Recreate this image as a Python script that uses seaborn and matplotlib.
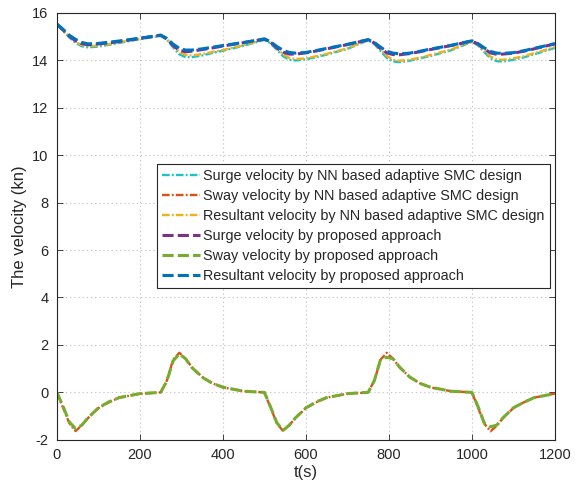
import numpy as np
import pandas as pd
import matplotlib
matplotlib.use("Agg")
import matplotlib.pyplot as plt
import seaborn as sns

# ---------------- data ----------------
t = [0, 15, 30, 45, 60, 75, 100, 125, 150, 200,
     250, 265, 280, 295, 310, 325, 350, 375, 400, 450,
     500, 515, 530, 545, 560, 575, 600, 625, 650, 700,
     750, 765, 780, 795, 810, 825, 850, 875, 900, 950,
     1000, 1015, 1030, 1045, 1060, 1075, 1100, 1125, 1150, 1200]

# NN based adaptive SMC design
surge_nn = [15.50, 15.25, 14.96, 14.73, 14.59, 14.54, 14.58, 14.65, 14.73, 14.89,
            15.03, 14.87, 14.54, 14.25, 14.13, 14.13, 14.20, 14.31, 14.40, 14.61,
            14.86, 14.71, 14.44, 14.17, 14.02, 13.99, 14.04, 14.13, 14.24, 14.48,
            14.84, 14.68, 14.39, 14.10, 13.95, 13.92, 13.98, 14.08, 14.18, 14.42,
            14.78, 14.62, 14.34, 14.08, 13.96, 13.95, 14.02, 14.12, 14.25, 14.52]
sway_nn = [0.00, -0.65, -1.30, -1.63, -1.38, -1.08, -0.66, -0.42, -0.22, -0.06,
           0.00, 0.50, 1.38, 1.67, 1.42, 1.07, 0.65, 0.38, 0.21, 0.05,
           0.00, -0.65, -1.30, -1.63, -1.38, -1.08, -0.66, -0.42, -0.22, -0.06,
           0.00, 0.50, 1.38, 1.67, 1.42, 1.07, 0.65, 0.38, 0.21, 0.05,
           0.00, -0.65, -1.32, -1.64, -1.40, -1.08, -0.66, -0.42, -0.22, -0.05]
result_nn = [15.52, 15.28, 15.00, 14.78, 14.64, 14.59, 14.62, 14.68, 14.76, 14.91,
             15.05, 14.90, 14.60, 14.35, 14.23, 14.20, 14.26, 14.35, 14.43, 14.63,
             14.88, 14.75, 14.50, 14.25, 14.10, 14.05, 14.08, 14.17, 14.27, 14.50,
             14.86, 14.72, 14.45, 14.18, 14.02, 13.98, 14.02, 14.11, 14.22, 14.45,
             14.80, 14.66, 14.40, 14.15, 14.04, 14.02, 14.08, 14.17, 14.30, 14.55]

# proposed approach
surge_pr = [15.51, 15.27, 15.01, 14.82, 14.70, 14.65, 14.69, 14.73, 14.79, 14.92,
            15.05, 14.90, 14.62, 14.42, 14.36, 14.38, 14.45, 14.52, 14.60, 14.74,
            14.89, 14.76, 14.52, 14.34, 14.26, 14.26, 14.31, 14.39, 14.48, 14.66,
            14.86, 14.73, 14.49, 14.31, 14.24, 14.23, 14.28, 14.36, 14.45, 14.62,
            14.81, 14.68, 14.47, 14.31, 14.25, 14.26, 14.30, 14.38, 14.48, 14.69]
sway_pr = [0.00, -0.60, -1.25, -1.53, -1.38, -1.07, -0.65, -0.40, -0.22, -0.05,
           0.00, 0.48, 1.33, 1.62, 1.42, 1.05, 0.64, 0.38, 0.22, 0.05,
           0.00, -0.62, -1.28, -1.60, -1.38, -1.07, -0.65, -0.40, -0.22, -0.05,
           0.00, 0.50, 1.40, 1.48, 1.42, 1.08, 0.65, 0.38, 0.22, 0.05,
           0.00, -0.60, -1.30, -1.45, -1.38, -1.07, -0.65, -0.42, -0.22, -0.05]
result_pr = [15.53, 15.30, 15.05, 14.88, 14.75, 14.69, 14.71, 14.76, 14.81, 14.93,
             15.06, 14.92, 14.68, 14.50, 14.43, 14.43, 14.48, 14.55, 14.62, 14.75,
             14.90, 14.78, 14.58, 14.42, 14.33, 14.30, 14.33, 14.41, 14.50, 14.67,
             14.87, 14.75, 14.55, 14.38, 14.30, 14.27, 14.30, 14.38, 14.47, 14.63,
             14.82, 14.70, 14.52, 14.37, 14.30, 14.29, 14.32, 14.40, 14.50, 14.70]

labels = ["Surge velocity by NN based adaptive SMC design",
          "Sway velocity by NN based adaptive SMC design",
          "Resultant velocity by NN based adaptive SMC design",
          "Surge velocity by proposed approach",
          "Sway velocity by proposed approach",
          "Resultant velocity by proposed approach"]
series = [surge_nn, sway_nn, result_nn, surge_pr, sway_pr, result_pr]
colors = ["#1CC3C6", "#D95319", "#EDB120", "#7E2F8E", "#77AC30", "#0072BD"]

xticks = [0, 200, 400, 600, 800, 1000, 1200]
yticks = [-2, 0, 2, 4, 6, 8, 10, 12, 14, 16]

# ---------------- plotting ----------------
sns.set_theme(style="white")
plt.rcParams["font.family"] = ["Liberation Sans", "DejaVu Sans"]
plt.rcParams["lines.scale_dashes"] = False

df = pd.DataFrame({"t": t})
for lab, vals in zip(labels, series):
    df[lab] = vals

fig = plt.figure(figsize=(5.75, 4.92), dpi=100)
ax = fig.add_axes([0.099, 0.106, 0.866, 0.868])

handles = []
for i, (lab, col) in enumerate(zip(labels, colors)):
    nn = i < 3
    sns.lineplot(data=df, x="t", y=lab, ax=ax, color=col,
                 linewidth=1.7 if nn else 2.2, errorbar=None, sort=False,
                 label=lab)
    ln = ax.lines[-1]
    if nn:
        ln.set_dashes((5.5, 1.6, 1.3, 1.6))
    else:
        ln.set_dashes((8.0, 3.0))
    ln.set_dash_capstyle("butt")
    handles.append(ln)

ax.set_xlim(0, 1200)
ax.set_ylim(-2, 16)
ax.set_xticks(xticks)
ax.set_yticks(yticks)
ax.set_xticklabels([str(v) for v in xticks])
ax.set_yticklabels([str(v) for v in yticks])
ax.grid(True, linestyle=(0, (1, 2)), color="#c8c8c8", linewidth=0.8)
ax.tick_params(direction="in", length=4, width=0.6, top=True, right=True,
               labelsize=10.5, colors="#262626", pad=6,
               bottom=True, left=True)
for s in ax.spines.values():
    s.set_color("#262626")
    s.set_linewidth(0.8)
ax.set_xlabel("t(s)", fontsize=12, color="#262626", labelpad=2)
ax.set_ylabel("The velocity (kn)", fontsize=12, color="#262626", labelpad=4)

leg = ax.legend(handles=handles, labels=labels, loc="upper right",
                bbox_to_anchor=(0.99, 0.647), borderaxespad=0,
                fontsize=10.4, handlelength=2.6, handletextpad=0.25,
                labelspacing=0.42, borderpad=0.35, frameon=True,
                fancybox=False, framealpha=1)
leg.get_frame().set_edgecolor("#262626")
leg.get_frame().set_linewidth(0.8)

fig.savefig("out.png", dpi=100)
